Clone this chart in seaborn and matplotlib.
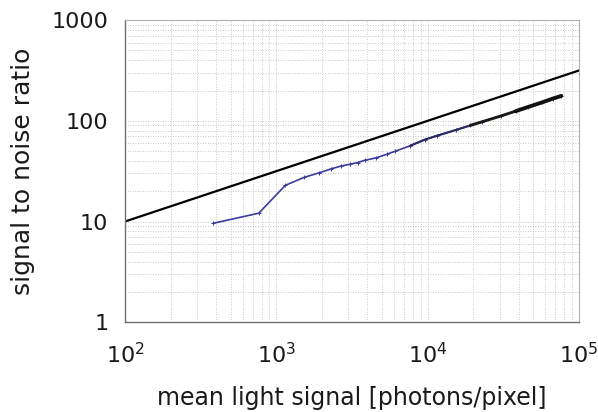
import numpy as np
import pandas as pd
import matplotlib
matplotlib.use("Agg")
import matplotlib.pyplot as plt
import seaborn as sns

# values
ideal_signal = [1e2, 1e5]
ideal_snr = [10.0, 316.2]

signal = [383, 766, 1149, 1532, 1915, 2298, 2681, 3064, 3447, 3830, 4596, 5362,
          6128, 7660, 9575, 11490, 15320, 19150, 22980, 30640, 38300, 45960,
          57450, 67025, 76600]
snr = [9.6, 12.1, 22.9, 27.5, 30.4, 33.3, 35.6, 37.0, 38.5, 40.5, 43.0, 46.5,
       50.0, 56.5, 65.0, 71.0, 81.0, 90.0, 98.0, 112.0, 125.0, 137.0,
       153.0, 166.0, 177.0]

df = pd.DataFrame({"signal": signal, "snr": snr})
df_ideal = pd.DataFrame({"signal": ideal_signal, "snr": ideal_snr})

sns.set_style("white")
plt.rcParams["font.family"] = ["DejaVu Sans"]
plt.rcParams["mathtext.fontset"] = "dejavusans"

fig = plt.figure(figsize=(5.98, 4.12), dpi=100)
ax = fig.add_axes([0.209, 0.218, 0.759, 0.733])

sns.lineplot(data=df_ideal, x="signal", y="snr", color="black", lw=1.6, ax=ax)
sns.lineplot(data=df, x="signal", y="snr", color="#3b3b9c", lw=1.2, ax=ax,
             marker="+", markersize=3, markeredgecolor="#3b3b9c")
# dense tail of the measured curve looks darker and thicker towards the end
for lo, hi, w, c in [(7660, 19150, 1.5, "#2a2a60"),
                     (19150, 38300, 2.1, "#1a1a1a"),
                     (38300, 76600, 2.8, "#111111")]:
    seg = df[(df["signal"] >= lo) & (df["signal"] <= hi)]
    sns.lineplot(data=seg, x="signal", y="snr", color=c, lw=w, ax=ax)

ax.set_xscale("log")
ax.set_yscale("log")
ax.set_xlim(1e2, 1e5)
ax.set_ylim(1, 1000)

ax.set_yticks([1, 10, 100, 1000])
ax.set_yticklabels(["1", "10", "100", "1000"])
ax.set_xticks([1e2, 1e3, 1e4, 1e5])
ax.set_xticklabels([r"$10^2$", r"$10^3$", r"$10^4$", r"$10^5$"])

ax.grid(True, which="both", color="#b8b8b8", linestyle=(0, (1, 2)), lw=0.6)
for s in ["left", "bottom"]:
    ax.spines[s].set_color("#707070")
    ax.spines[s].set_linewidth(1.0)
for s in ["top", "right"]:
    ax.spines[s].set_color("#b0b0b0")
    ax.spines[s].set_linewidth(0.8)

ax.tick_params(which="major", direction="out", length=3, color="#707070",
               labelsize=16, labelcolor="#1a1a1a")
ax.tick_params(which="minor", direction="out", length=2, color="#707070")
ax.tick_params(axis="y", which="major", pad=9)
ax.tick_params(axis="x", which="major", pad=11)

ax.set_xlabel("mean light signal [photons/pixel]", fontsize=17, labelpad=14,
              color="#1a1a1a")
ax.set_ylabel("signal to noise ratio", fontsize=18, labelpad=12,
              color="#1a1a1a")

fig.savefig("out.png", dpi=100)
